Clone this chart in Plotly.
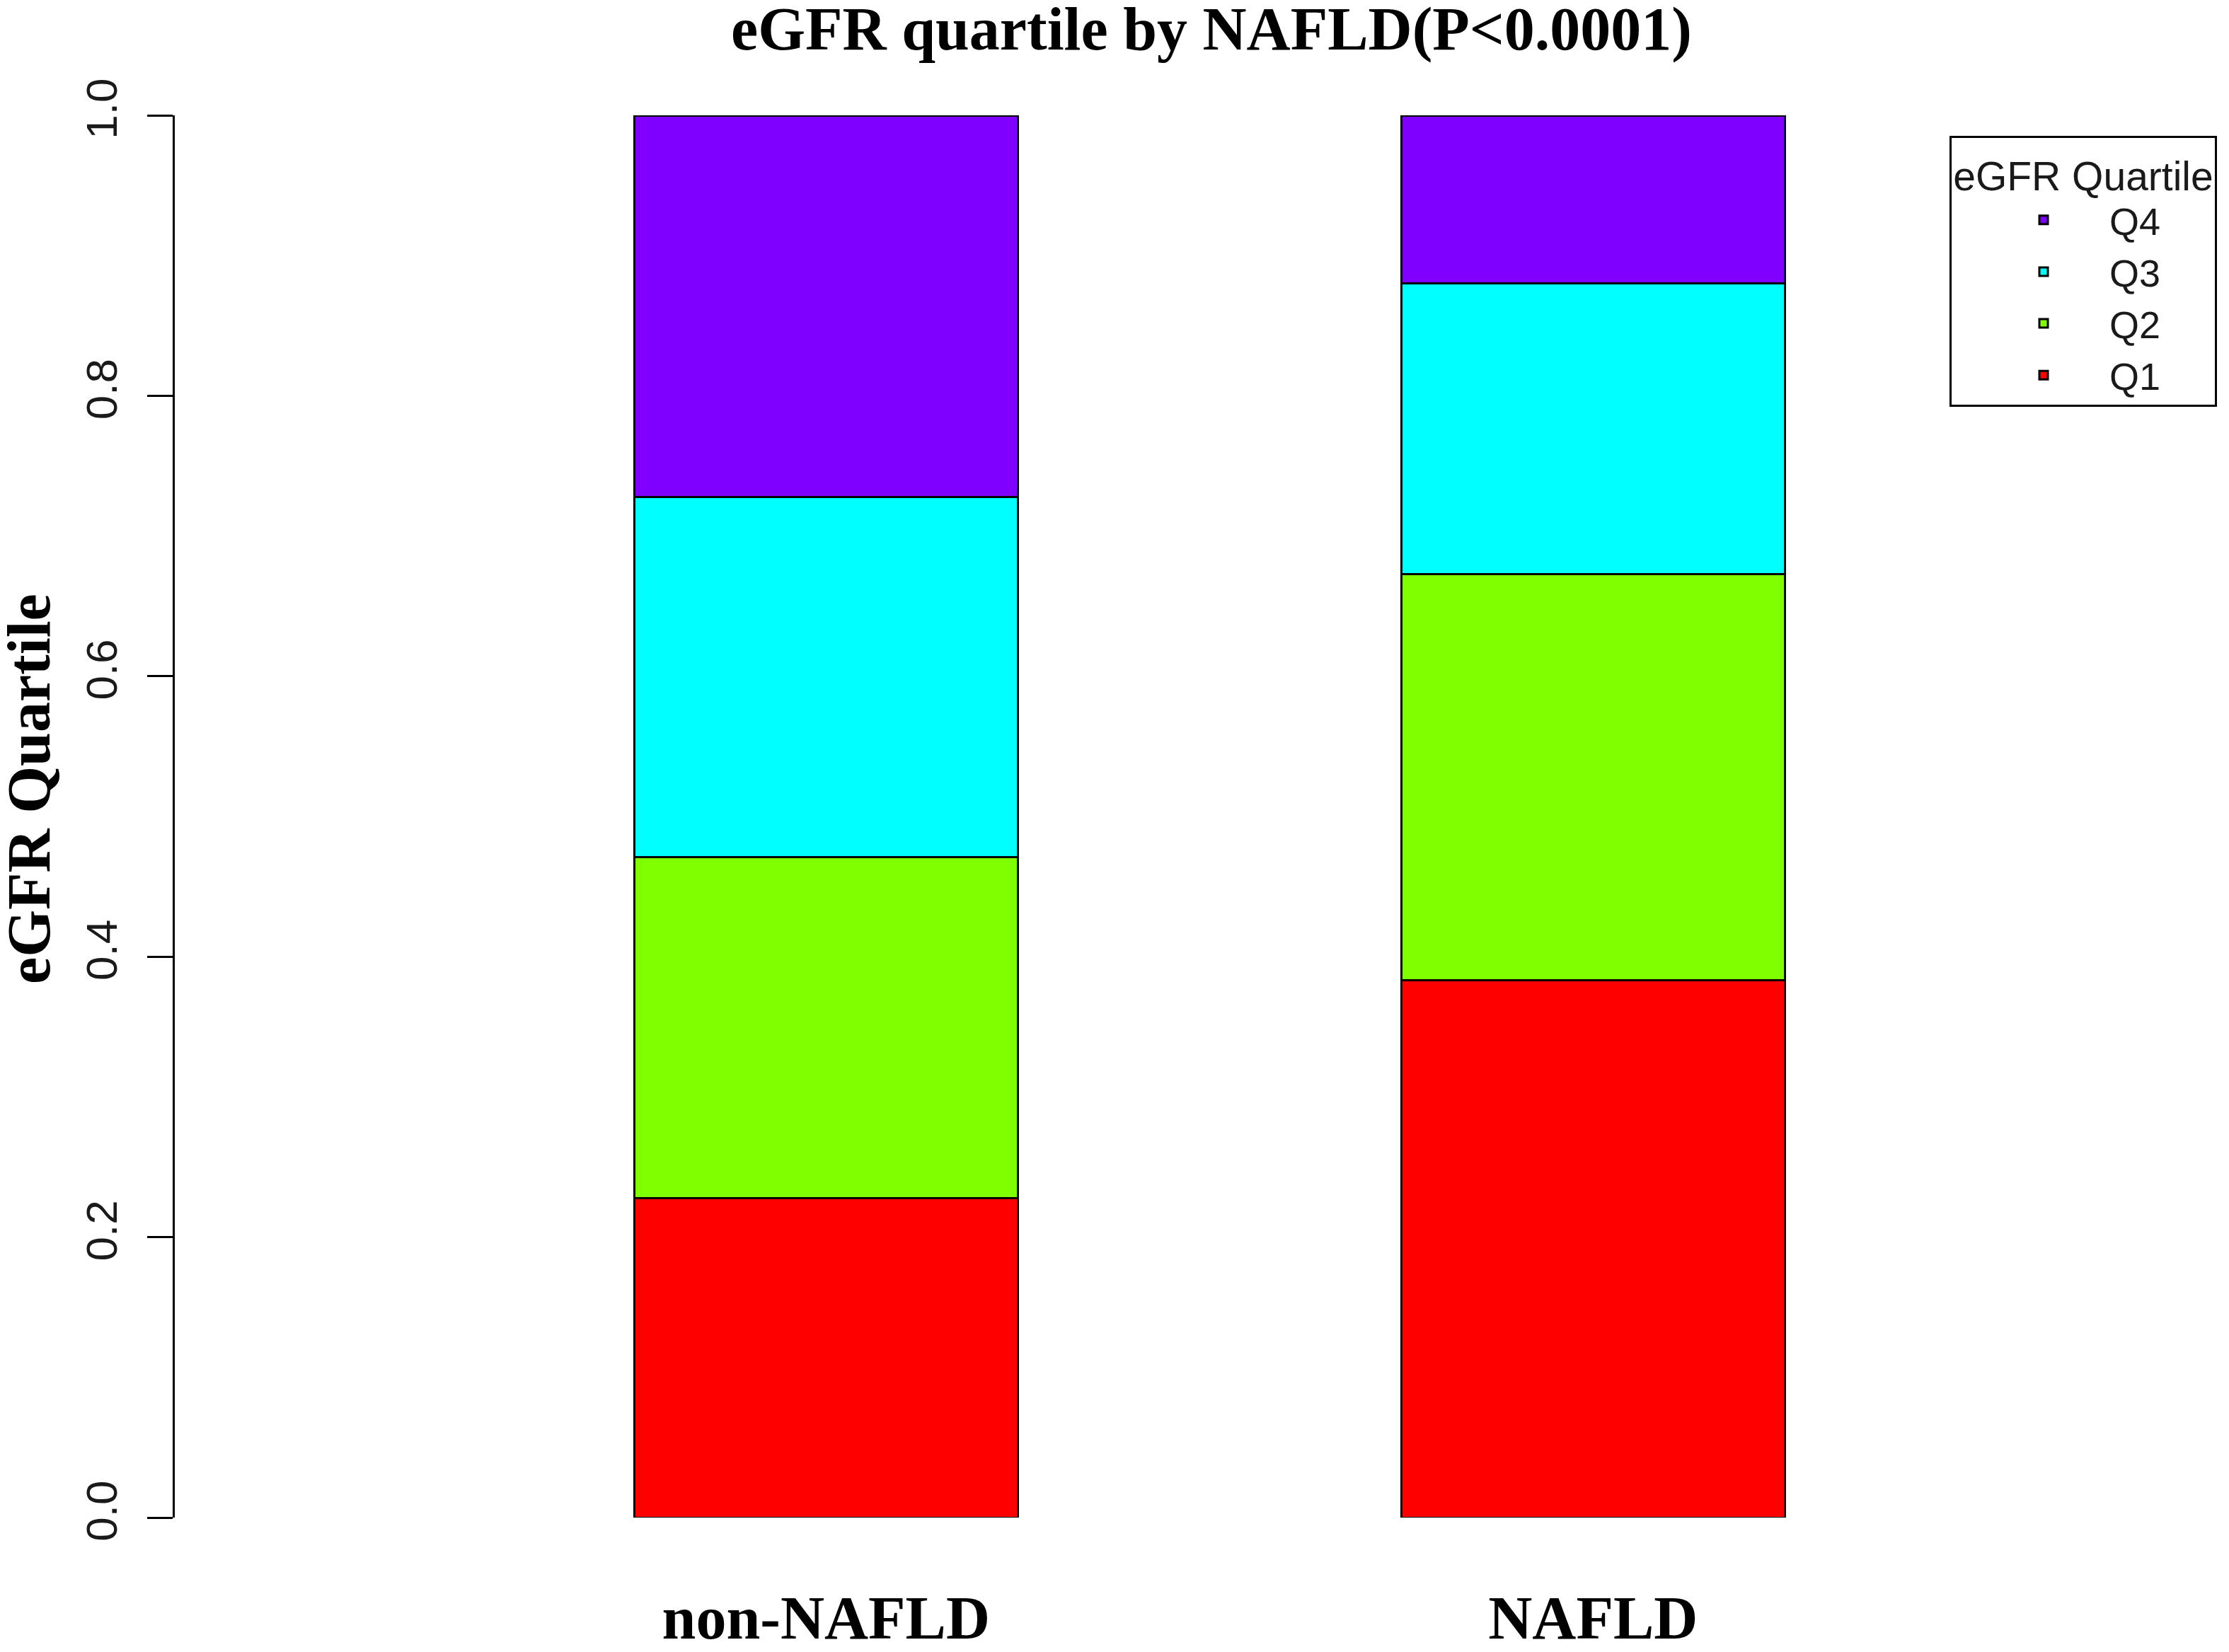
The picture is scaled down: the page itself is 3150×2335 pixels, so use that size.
import plotly.graph_objects as go

# ---- data ----
groups = ["non-NAFLD", "NAFLD"]
quartiles = ["Q1", "Q2", "Q3", "Q4"]
q1 = [0.228, 0.383]
q2 = [0.243, 0.290]
q3 = [0.257, 0.207]
q4 = [0.272, 0.120]
series = [q1, q2, q3, q4]
colors = ["#FF0000", "#80FF00", "#00FFFF", "#8000FF"]
y_ticks = [0.0, 0.2, 0.4, 0.6, 0.8, 1.0]
y_tick_labels = ["0.0", "0.2", "0.4", "0.6", "0.8", "1.0"]
y_title = "eGFR Quartile"
chart_title = "eGFR quartile by NAFLD(P<0.0001)"
legend_title = "eGFR Quartile"

SERIF = "Liberation Serif, Times New Roman, serif"
SANS = "Liberation Sans, Arial, sans-serif"

OFF = 8  # page body margin added by the html wrapper
W, H = 3150 - OFF, 2335 - OFF
L, R, T, B = 247 - OFF, 0, 163 - OFF, 190
PW, PH = W - L - R, H - T - B
PLOT_BOTTOM = 2145  # page px

fig = go.Figure()
for name, vals, col in zip(quartiles, series, colors):
    fig.add_trace(go.Bar(
        x=groups, y=vals, name=name, width=0.5,
        marker=dict(color=col, line=dict(color="black", width=3)),
    ))

fig.update_layout(
    width=W, height=H,
    barmode="stack",
    paper_bgcolor="white", plot_bgcolor="white",
    margin=dict(l=L, r=R, t=T, b=B, autoexpand=False),
    title=dict(
        text="<b>" + chart_title + "</b>",
        font=dict(family=SERIF, size=86, color="black"),
        x=(1712 - OFF) / W, xanchor="center", xref="container",
        y=1 - 32 / H, yanchor="middle", yref="container",
        automargin=False,
    ),
    xaxis=dict(
        range=[-0.849, 1.829],
        showline=False, showgrid=False, zeroline=False, ticks="",
        tickfont=dict(family=SERIF, size=86, color="black"),
        tickprefix="<b>", ticksuffix="</b>",
        ticklabelstandoff=84,
        automargin=False,
    ),
    yaxis=dict(
        range=[0, 1],
        tickvals=y_ticks, ticktext=y_tick_labels,
        showline=True, linecolor="black", linewidth=3,
        ticks="outside", ticklen=36, tickwidth=3, tickcolor="black",
        tickangle=-90,
        tickfont=dict(family=SANS, size=62, color="#1a1a1a"),
        ticklabelstandoff=18,
        showgrid=False, zeroline=False,
        automargin=False,
    ),
    annotations=[dict(
        text="<b>" + y_title + "</b>", textangle=-90,
        font=dict(family=SERIF, size=86, color="black"),
        xref="paper", yref="paper",
        x=(41 - 247) / PW, y=(PLOT_BOTTOM - 1115) / PH,
        xanchor="center", yanchor="middle", showarrow=False,
    )],
    legend=dict(
        x=(2755 - 247) / PW, xanchor="left",
        y=(PLOT_BOTTOM - 192) / PH, yanchor="top",
        bordercolor="black", borderwidth=3, bgcolor="white",
        traceorder="reversed",
        font=dict(family=SANS, size=54, color="#1a1a1a"),
        title=dict(text=legend_title, side="top center",
                   font=dict(family=SANS, size=57, color="#1a1a1a")),
        indentation=37,
        itemwidth=176,
    ),
)

fig.write_html("out.html")
